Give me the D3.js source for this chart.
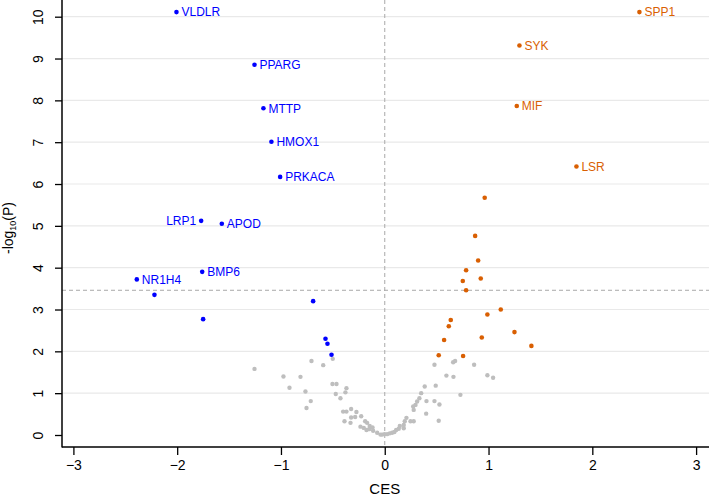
<!DOCTYPE html>
<html>
<head>
<meta charset="utf-8">
<script src="https://cdn.jsdelivr.net/npm/d3@7"></script>
<style>
  html, body { margin: 0; padding: 0; background: #fff; }
  svg { display: block; font-family: "Liberation Sans", Arial, Helvetica, sans-serif; }
</style>
</head>
<body>
<svg id="chart" width="709" height="499"></svg>
<script>
// ---------- data ----------
const downGenes = ["VLDLR","PPARG","MTTP","HMOX1","PRKACA","LRP1","APOD","BMP6","NR1H4","","","","","",""];
const downCES   = [-2.007,-1.255,-1.169,-1.092,-1.008,-1.769,-1.570,-1.759,-2.389,-2.219,-1.750,-0.690,-0.571,-0.552,-0.513];
const downLogP  = [10.11, 8.85, 7.81, 7.01, 6.17, 5.12, 5.05, 3.90, 3.72, 3.35, 2.77, 3.20, 2.30, 2.18, 1.92];

const upGenes = ["SPP1","SYK","MIF","LSR","","","","","","","","","","","","","","","","",""];
const upCES   = [2.454, 1.298, 1.272, 1.847, 0.963, 0.871, 0.900, 0.784, 0.925, 0.752, 0.784, 1.118, 0.989, 1.250, 0.935, 1.413, 0.755, 0.636, 0.617, 0.572, 0.520];
const upLogP  = [10.11, 9.31, 7.865, 6.42, 5.67, 4.76, 4.17, 3.94, 3.74, 3.68, 3.46, 3.00, 2.88, 2.46, 2.33, 2.13, 1.89, 2.75, 2.60, 2.27, 1.905];

const nsCES  = [-1.255,-0.706,-0.593,-0.501,-0.976,-0.812,-0.918,-0.764,-0.504,-0.465,-0.369,-0.379,-0.472,-0.427,-0.713,-0.754,-0.401,-0.369,-0.324,-0.273,-0.227,-0.324,-0.285,-0.388,-0.330,-0.189,-0.170,-0.234,-0.202,-0.145,-0.150,-0.176,-0.118,-0.112,-0.073,-0.041,
                -0.025,-0.003,0.023,0.048,0.071,0.093,0.110,0.135,0.145,0.183,0.183,0.193,0.209,0.248,0.279,0.274,0.279,0.296,0.312,0.334,0.351,0.399,0.402,0.385,0.491,0.479,0.527,0.520,0.479,0.594,0.662,0.659,0.678,0.729,0.861,0.989,1.044];
const nsLogP = [1.58,1.77,1.67,1.82,1.40,1.39,1.13,1.04,1.22,1.22,1.12,1.02,0.98,0.88,0.81,0.645,0.56,0.56,0.62,0.55,0.45,0.42,0.43,0.33,0.29,0.33,0.29,0.20,0.17,0.215,0.14,0.12,0.18,0.10,0.055,0.01,
                0.01,0.02,0.02,0.04,0.055,0.07,0.12,0.15,0.215,0.16,0.24,0.33,0.41,0.33,0.33,0.68,0.60,0.72,0.80,0.88,1.00,0.51,0.81,1.16,1.18,0.81,0.73,0.34,1.68,1.42,1.39,1.74,1.77,0.96,1.68,1.43,1.37];

const xTicks = [-3,-2,-1,0,1,2,3];
const yTicks = [0,1,2,3,4,5,6,7,8,9,10];
const threshold = 3.46;
const xLabel = "CES";

const colDown = "#0000ff", colUp = "#d95f02", colNs = "#bebebe";
const leftLabels = new Set(["LRP1"]);

// ---------- layout ----------
const svg = d3.select("#chart");
const plotL = 62, plotR = 709, plotT = 0, plotB = 447;

const x = d3.scaleLinear().domain([-3, 3]).range([73.4, 696.1]);
const y = d3.scaleLinear().domain([0, 10]).range([435, 16.7]);

// gridlines
svg.append("g").selectAll("line").data(yTicks.filter(d => d > 0)).join("line")
  .attr("x1", plotL).attr("x2", plotR)
  .attr("y1", d => y(d)).attr("y2", d => y(d))
  .attr("stroke", "#e9e9e9").attr("stroke-width", 1.2);

// dashed reference lines
svg.append("line")
  .attr("x1", x(0)).attr("x2", x(0)).attr("y1", plotT).attr("y2", plotB)
  .attr("stroke", "#a8a8a8").attr("stroke-width", 1).attr("stroke-dasharray", "4,3");
svg.append("line")
  .attr("x1", plotL).attr("x2", plotR).attr("y1", y(threshold)).attr("y2", y(threshold))
  .attr("stroke", "#a8a8a8").attr("stroke-width", 1).attr("stroke-dasharray", "4,3");

// axes
const xAxis = svg.append("g").attr("transform", `translate(0,${plotB})`)
  .call(d3.axisBottom(x).tickValues(xTicks).tickSize(8).tickPadding(5).tickFormat(d3.format("d")));
xAxis.select(".domain").remove();
xAxis.selectAll(".tick line").attr("stroke", "#000").attr("stroke-width", 1.3);
xAxis.selectAll("text").attr("font-size", 14).attr("fill", "#000")
  .attr("font-family", "Liberation Sans, Arial, sans-serif");

const yAxis = svg.append("g").attr("transform", `translate(${plotL},0)`)
  .call(d3.axisLeft(y).tickValues(yTicks).tickSize(7).tickFormat(d3.format("d")));
yAxis.select(".domain").remove();
yAxis.selectAll(".tick line").attr("stroke", "#000").attr("stroke-width", 1.3);
yAxis.selectAll("text")
  .attr("x", 0).attr("dy", 0).attr("text-anchor", "middle")
  .attr("transform", "translate(-19,0) rotate(-90)")
  .attr("font-size", 14).attr("fill", "#000")
  .attr("font-family", "Liberation Sans, Arial, sans-serif");

// axis lines
svg.append("line").attr("x1", plotL).attr("x2", plotL).attr("y1", plotT).attr("y2", plotB + 0.6)
  .attr("stroke", "#000").attr("stroke-width", 1.5);
svg.append("line").attr("x1", plotL).attr("x2", plotR).attr("y1", plotB).attr("y2", plotB)
  .attr("stroke", "#000").attr("stroke-width", 1.5);

// axis titles
svg.append("text").attr("x", x(0)).attr("y", 494).attr("text-anchor", "middle")
  .attr("font-size", 15).attr("fill", "#000").text(xLabel);

const yt = svg.append("text").attr("transform", `translate(13,228) rotate(-90)`)
  .attr("text-anchor", "middle").attr("font-size", 14).attr("fill", "#000");
yt.append("tspan").text("-log");
yt.append("tspan").attr("font-size", 9).attr("dy", 3).text("10");
yt.append("tspan").attr("dy", -3).text("(P)");

// points
const nsData = nsCES.map((c, i) => ({c, p: nsLogP[i]}));
const downData = downCES.map((c, i) => ({c, p: downLogP[i], g: downGenes[i]}));
const upData = upCES.map((c, i) => ({c, p: upLogP[i], g: upGenes[i]}));

svg.append("g").selectAll("circle").data(nsData).join("circle")
  .attr("cx", d => x(d.c)).attr("cy", d => y(d.p)).attr("r", 2.2).attr("fill", colNs);

function drawGroup(data, col) {
  const g = svg.append("g");
  g.selectAll("circle").data(data).join("circle")
    .attr("cx", d => x(d.c)).attr("cy", d => y(d.p)).attr("r", 2.3).attr("fill", col);
  g.selectAll("text").data(data.filter(d => d.g)).join("text")
    .attr("x", d => leftLabels.has(d.g) ? x(d.c) - 5 : x(d.c) + 5)
    .attr("y", d => y(d.p)).attr("dy", "0.36em")
    .attr("text-anchor", d => leftLabels.has(d.g) ? "end" : "start")
    .attr("font-size", 12).attr("fill", col).text(d => d.g);
}
drawGroup(downData, colDown);
drawGroup(upData, colUp);
</script>
</body>
</html>
